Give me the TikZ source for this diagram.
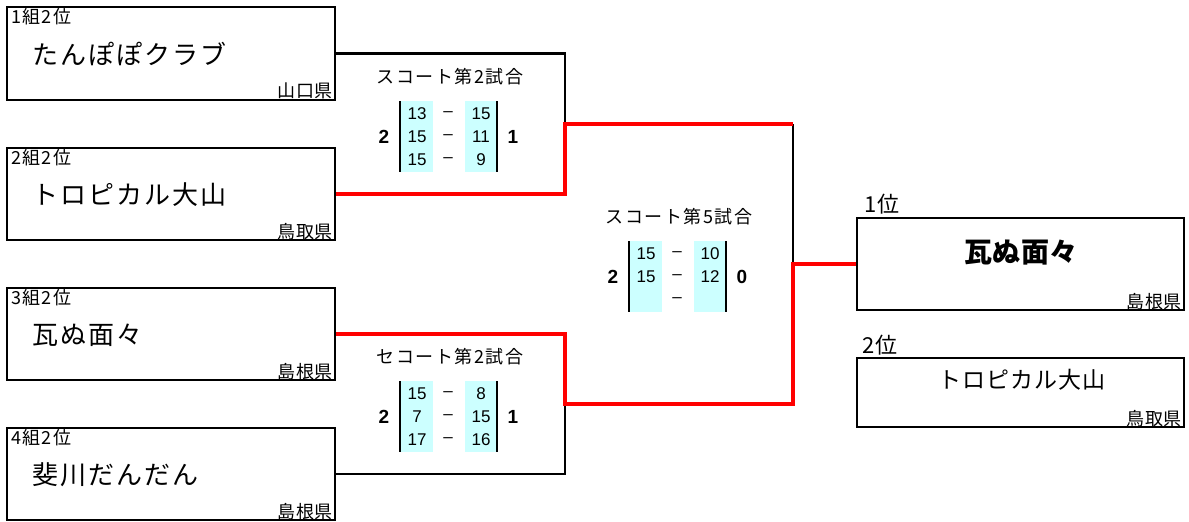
\documentclass[tikz,border=0pt]{standalone}
\usepackage{fontspec}
\setmainfont{Noto Sans CJK JP}
\newfontfamily\jpfont{Noto Sans CJK JP}
\newfontfamily\numfont{Liberation Sans}
\definecolor{cyanbg}{HTML}{CCFFFF}
\definecolor{winred}{HTML}{FF0000}
\newcommand\fs[2]{\fontsize{#1}{#1}\selectfont\addfontfeature{LetterSpace=#2}}
\tikzset{
  x=1pt, y=-1pt,
  teambox/.style={draw=black, line width=2.4pt, minimum width=328pt, inner sep=0pt},
  grouplbl/.style={anchor=west, inner sep=0pt, font=\jpfont\fs{18}{8}},
  preflbl/.style={anchor=east, inner sep=0pt, font=\jpfont\fs{18}{3}},
  teamname/.style={anchor=west, inner sep=0pt, font=\jpfont\fs{26}{8}},
  titlelbl/.style={inner sep=0pt, font=\jpfont\fs{18}{8}},
  scorenum/.style={inner sep=0pt, font=\numfont\fontsize{17}{17}\selectfont},
  setnum/.style={inner sep=0pt, font=\numfont\bfseries\fontsize{19}{19}\selectfont},
  blackline/.style={draw=black, line width=2.2pt},
  redline/.style={draw=winred, line width=3.2pt},
  tblbar/.style={draw=black, line width=2.4pt},
}
% score table: id, L, T, title, sets won left, sets won right
\newcommand\sctable[6]{%
  \begin{scope}[shift={(#2,#3)}]
    \fill[cyanbg] (0,0) rectangle (33,71);
    \fill[cyanbg] (65,0) rectangle (97,71);
    \draw[tblbar] (0,0) -- (0,71);
    \draw[tblbar] (97,0) -- (97,71);
    \node[titlelbl] (#1title) at (50,-24) {#4};
    \node[setnum] (#1sl) at (-16,36) {#5};
    \node[setnum] (#1sr) at (113,36) {#6};
  \end{scope}}
% score row: id, L, T, row-y offset, left, right
\newcommand\scrow[6]{%
  \begin{scope}[shift={(#2,#3)}]
    \node[scorenum] (#1a) at (17,#4) {#5};
    \node[scorenum] (#1d) at (48,#4) {–};
    \node[scorenum] (#1b) at (81,#4) {#6};
  \end{scope}}
\begin{document}
\begin{tikzpicture}
\useasboundingbox (0,0) rectangle (1189,522);
% left boxes
\node[teambox, minimum height=93pt] (b1) at (171,53.5) {};
\node[teambox, minimum height=92pt] (b2) at (171,194) {};
\node[teambox, minimum height=92pt] (b3) at (171,334) {};
\node[teambox, minimum height=92pt] (b4) at (171,474) {};
\foreach \b/\g/\t/\p in {b1/1組2位/たんぽぽクラブ/山口県, b2/2組2位/トロピカル大山/鳥取県, b3/3組2位/瓦ぬ面々/島根県, b4/4組2位/斐川だんだん/島根県}{
  \node[grouplbl, xshift=5pt, yshift=-11pt] (\b g) at (\b.north west) {\g};
  \node[teamname, xshift=26pt, yshift=-1pt] (\b t) at (\b.west) {\t};
  \node[preflbl, xshift=-3pt, yshift=10pt] (\b p) at (\b.south east) {\p};
}
% result boxes
\node[teambox, minimum width=327pt, minimum height=92pt] (w1) at (1020.5,264) {};
\node[teambox, minimum width=327pt, minimum height=69pt] (w2) at (1020.5,392.5) {};
\node[anchor=west, inner sep=0pt, font=\jpfont\fs{22}{3}] (w1l) at (864,204) {1位};
\node[anchor=west, inner sep=0pt, font=\jpfont\fs{22}{3}] (w2l) at (862,345) {2位};
\node[inner sep=0pt, font=\jpfont\bfseries\fs{28}{1}] (w1t) at (1021,253) {瓦ぬ面々};
\node[inner sep=0pt, font=\jpfont\fs{23}{5}] (w2t) at (1022,380) {トロピカル大山};
\node[preflbl, xshift=-3pt, yshift=10pt] (w1p) at (w1.south east) {島根県};
\node[preflbl, xshift=-3pt, yshift=10pt] (w2p) at (w2.south east) {鳥取県};
% connector points
\coordinate (m1) at (565,124);
\coordinate (t1) at (793,124);
\coordinate (fj) at (793,264);
\coordinate (m2) at (565,404);
\coordinate (t2) at (793,404);
% connectors
\draw[blackline] (b1.east) -| (m1);
\draw[blackline] (b4.east) -| (m2);
\draw[blackline] (t1) -- (fj);
\draw[redline] (b2.east) -| (m1) -- (t1);
\draw[redline] (b3.east) -| (m2) -- (t2) |- (w1.west);
% score tables
\sctable{s1}{400}{101}{スコート第2試合}{2}{1}
\scrow{s1r1}{400}{101}{13}{13}{15}
\scrow{s1r2}{400}{101}{36}{15}{11}
\scrow{s1r3}{400}{101}{59}{15}{9}
\sctable{s2}{400}{381}{セコート第2試合}{2}{1}
\scrow{s2r1}{400}{381}{13}{15}{8}
\scrow{s2r2}{400}{381}{36}{7}{15}
\scrow{s2r3}{400}{381}{59}{17}{16}
\sctable{s3}{629}{241}{スコート第5試合}{2}{0}
\scrow{s3r1}{629}{241}{13}{15}{10}
\scrow{s3r2}{629}{241}{36}{15}{12}
\scrow{s3r3}{629}{241}{59}{}{}
\end{tikzpicture}
\end{document}
